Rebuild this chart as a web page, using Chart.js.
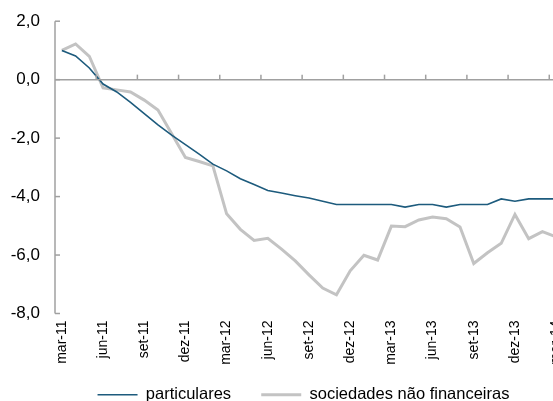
<!DOCTYPE html>
<html>
<head>
<meta charset="utf-8">
<script src="https://cdn.jsdelivr.net/npm/chart.js@4/dist/chart.umd.min.js"></script>
<style>
  html, body { margin: 0; padding: 0; background: #fff; overflow: hidden; width: 553px; height: 401px; position: relative; }
  #wrap { position: absolute; left: 0; top: -4px; width: 607px; height: 417px; }
</style>
</head>
<body>
<div id="wrap"><canvas id="c"></canvas></div>
<script>
const categories = [
  'mar-11','abr-11','mai-11','jun-11','jul-11','ago-11','set-11','out-11','nov-11','dez-11','jan-12','fev-12',
  'mar-12','abr-12','mai-12','jun-12','jul-12','ago-12','set-12','out-12','nov-12','dez-12','jan-13','fev-13',
  'mar-13','abr-13','mai-13','jun-13','jul-13','ago-13','set-13','out-13','nov-13','dez-13','jan-14','fev-14',
  'mar-14'
];
const particulares = [
  1.0, 0.81, 0.4, -0.15, -0.42, -0.78, -1.16, -1.55, -1.9, -2.22, -2.55, -2.89,
  -3.12, -3.39, -3.59, -3.79, -3.88, -3.97, -4.05, -4.16, -4.27, -4.27, -4.27, -4.27,
  -4.27, -4.36, -4.27, -4.27, -4.36, -4.27, -4.27, -4.27, -4.08, -4.16, -4.08, -4.08,
  -4.08
];
const sociedades = [
  1.0, 1.22, 0.8, -0.28, -0.35, -0.42, -0.7, -1.04, -1.85, -2.66, -2.8, -2.95,
  -4.59, -5.12, -5.5, -5.43, -5.8, -6.2, -6.68, -7.13, -7.36, -6.54, -6.01, -6.17,
  -5.01, -5.03, -4.8, -4.7, -4.76, -5.04, -6.29, -5.92, -5.6, -4.61, -5.44, -5.2,
  -5.38
];
const seriesNames = ['particulares', 'sociedades não financeiras'];
const yTicks = [-8, -6, -4, -2, 0, 2];
const labelEvery = 3;

const AXIS = '#a0a0a0';
const FONT = 'Liberation Sans, Arial, sans-serif';

const axisPlugin = {
  id: 'axisPlugin',
  afterDatasetsDraw(chart) {
    const {ctx, chartArea, scales} = chart;
    const x = scales.x, y = scales.y;
    ctx.save();
    ctx.strokeStyle = AXIS;
    ctx.lineWidth = 1.5;
    ctx.beginPath();
    ctx.moveTo(chartArea.left, y.getPixelForValue(2));
    ctx.lineTo(chartArea.left, y.getPixelForValue(-8));
    ctx.stroke();
    yTicks.forEach(v => {
      const py = y.getPixelForValue(v);
      ctx.beginPath();
      ctx.moveTo(chartArea.left, py);
      ctx.lineTo(chartArea.left + 5, py);
      ctx.stroke();
    });
    const y0 = y.getPixelForValue(0);
    ctx.beginPath();
    ctx.moveTo(chartArea.left, y0);
    ctx.lineTo(chartArea.right, y0);
    ctx.stroke();
    for (let i = labelEvery; i < categories.length; i += labelEvery) {
      const px = (x.getPixelForValue(i - 1) + x.getPixelForValue(i)) / 2;
      ctx.beginPath();
      ctx.moveTo(px, y0);
      ctx.lineTo(px, y0 - 5);
      ctx.stroke();
    }
    ctx.restore();
  }
};

new Chart(document.getElementById('c'), {
  type: 'line',
  data: {
    labels: categories,
    datasets: [
      {
        label: seriesNames[0],
        data: particulares,
        borderColor: '#1d5b7d',
        backgroundColor: '#1d5b7d',
        borderWidth: 1.6,
        pointRadius: 0,
        tension: 0,
        order: 1
      },
      {
        label: seriesNames[1],
        data: sociedades,
        borderColor: '#c3c3c3',
        backgroundColor: '#c3c3c3',
        borderWidth: 3,
        pointRadius: 0,
        tension: 0,
        order: 2
      }
    ]
  },
  options: {
    responsive: true,
    maintainAspectRatio: false,
    animation: false,
    devicePixelRatio: 1,
    layout: { padding: { top: 12, left: 0, right: 0, bottom: 0 } },
    plugins: {
      tooltip: { enabled: false },
      legend: {
        position: 'bottom',
        align: 'center',
        labels: {
          boxWidth: 40,
          boxHeight: 0,
          padding: 21,
          color: '#000',
          font: { family: FONT, size: 16.5 },
          generateLabels: chart => {
            const items = Chart.defaults.plugins.legend.labels.generateLabels(chart);
            items.forEach((it, i) => { if (i === 0) it.text = it.text + '  '; });
            return items;
          }
        }
      }
    },
    scales: {
      x: {
        type: 'category',
        offset: true,
        grid: { display: false, drawTicks: false },
        border: { display: false },
        ticks: {
          autoSkip: false,
          maxRotation: 90,
          minRotation: 90,
          padding: 7,
          color: '#000',
          font: { family: FONT, size: 14 },
          callback: (v, i) => (i % labelEvery === 0 ? categories[i] : '')
        },
        afterFit: s => { s.height = 52; }
      },
      y: {
        min: -8,
        max: 2,
        grid: { display: false, drawTicks: false },
        border: { display: false },
        ticks: {
          stepSize: 2,
          padding: 15,
          color: '#000',
          font: { family: FONT, size: 17 },
          callback: v => v.toFixed(1).replace('.', ',')
        },
        afterFit: s => { s.width = 55; }
      },
      y2: {
        position: 'right',
        display: true,
        grid: { display: false, drawTicks: false },
        border: { display: false },
        ticks: { display: false },
        afterFit: s => { s.width = 44; }
      }
    }
  },
  plugins: [axisPlugin]
});
</script>
</body>
</html>
